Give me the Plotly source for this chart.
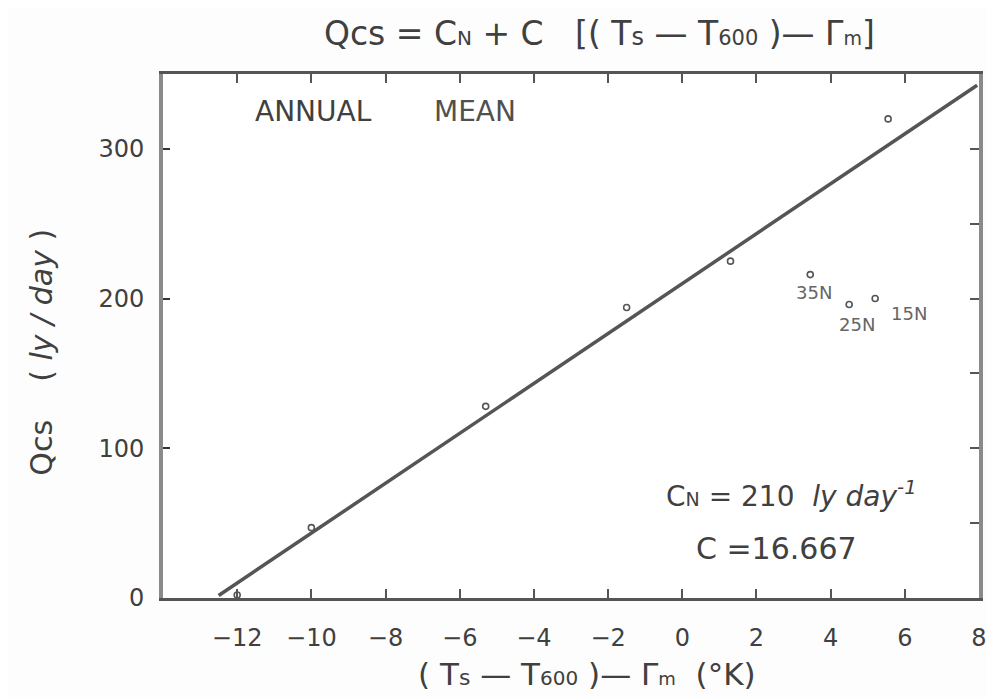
import plotly.graph_objects as go

# Data
obs_x = [-12.0, -10.0, -5.3, -1.5, 1.3, 5.55]
obs_y = [2, 47, 128, 194, 225, 320]

lat_x = [3.45, 4.5, 5.2]
lat_y = [216, 196, 200]
lat_labels = ["35N", "25N", "15N"]
lat_label_x = [3.55, 4.72, 6.12]
lat_label_y = [204, 183, 190]

CN = 210
C = 16.667
fit_x = [-12.5, 7.95]
fit_y = [CN + C * v for v in fit_x]

x_ticks = [-12, -10, -8, -6, -4, -2, 0, 2, 4, 6, 8]
y_ticks_left = [0, 100, 200, 300]
y_ticks_right = [50, 100, 150, 200, 250, 300]

INK = "#404040"
FONT = "DejaVu Sans"

fig = go.Figure()
fig.add_trace(go.Scatter(x=fit_x, y=fit_y, mode="lines",
                         line=dict(color="#555555", width=3.5), showlegend=False))
fig.add_trace(go.Scatter(x=obs_x, y=obs_y, mode="markers",
                         marker=dict(symbol="circle-open", size=6, color="#555",
                                     line=dict(width=1.6, color="#555")),
                         showlegend=False))
fig.add_trace(go.Scatter(x=lat_x, y=lat_y, mode="markers",
                         marker=dict(symbol="circle-open", size=6, color="#555",
                                     line=dict(width=1.6, color="#555")),
                         showlegend=False))
# invisible trace for right-side ticks axis
fig.add_trace(go.Scatter(x=[0], y=[0], yaxis="y2", mode="markers",
                         marker=dict(opacity=0), showlegend=False, hoverinfo="skip"))

for lx, ly, t in zip(lat_label_x, lat_label_y, lat_labels):
    fig.add_annotation(x=lx, y=ly, text=t, showarrow=False,
                       font=dict(family=FONT, size=18, color="#666"))

fig.add_annotation(x=-9.95, y=325, text="ANNUAL", showarrow=False,
                   font=dict(family=FONT, size=28, color=INK))
fig.add_annotation(x=-5.6, y=325, text="MEAN", showarrow=False,
                   font=dict(family=FONT, size=28, color="#505050"))
fig.add_annotation(x=2.95, y=69,
                   text="C<span style='font-size:19px'>N</span> = 210  <i>ly day<sup>-1</sup></i>",
                   showarrow=False, font=dict(family=FONT, size=28, color=INK))
fig.add_annotation(x=2.55, y=33, text="C =16.667", showarrow=False,
                   font=dict(family=FONT, size=30, color=INK))

fig.add_annotation(xref="paper", yref="paper", x=0.535, y=1.078,
                   xanchor="center", yanchor="middle",
                   text="Qcs = C<span style='font-size:20px'>N</span> + C   [( T<span style='font-size:24px'>s</span> — T<span style='font-size:21px'>600</span> )— Γ<span style='font-size:19px'>m</span>]",
                   showarrow=False, font=dict(family=FONT, size=33, color=INK))
fig.add_annotation(xref="paper", yref="paper", x=0.52, y=-0.145,
                   xanchor="center", yanchor="middle",
                   text="( T<span style='font-size:22px'>s</span> — T<span style='font-size:20px'>600</span> )— Γ<span style='font-size:18px'>m</span>  (°K)",
                   showarrow=False, font=dict(family=FONT, size=31, color=INK))
fig.add_annotation(xref="paper", yref="paper", x=-0.149, y=0.469, textangle=-90,
                   xanchor="center", yanchor="middle",
                   text="Qcs    ( <i>ly / day</i> )", showarrow=False,
                   font=dict(family=FONT, size=30, color=INK))

fig.update_layout(
    width=987, height=689,
    margin=dict(l=155, r=8, t=66, b=99),
    paper_bgcolor="#fdfdfd", plot_bgcolor="#ffffff",
    xaxis=dict(range=[-14, 8], tickvals=x_ticks, ticks="inside", ticklen=9,
               tickwidth=1.5, tickcolor="#555", showgrid=False, zeroline=False,
               showline=True, linecolor="#555555", linewidth=3, mirror="ticks",
               ticklabelstandoff=16,
               tickfont=dict(family=FONT, size=24, color=INK)),
    yaxis=dict(range=[0, 350], tickvals=y_ticks_left, ticks="inside", ticklen=7,
               tickwidth=2, tickcolor="#333", showgrid=False, zeroline=False,
               showline=True, linecolor="#8a8a8a", linewidth=4, mirror=True,
               ticklabelstandoff=10,
               tickfont=dict(family=FONT, size=24, color=INK)),
    yaxis2=dict(range=[0, 350], overlaying="y", side="right", tickvals=y_ticks_right,
                ticks="inside", ticklen=9, tickwidth=1.5, tickcolor="#555",
                showticklabels=False, showgrid=False, zeroline=False, showline=False),
)

fig.write_html("out.html")
